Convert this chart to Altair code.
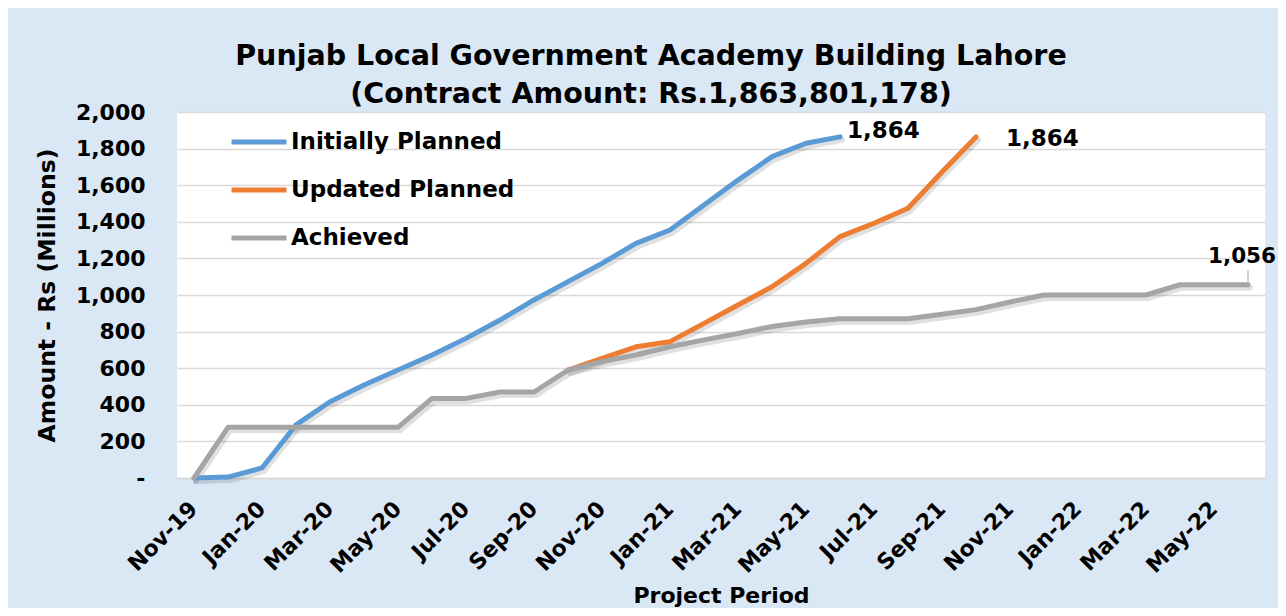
import altair as alt
import pandas as pd

months = ["Nov-19", "Dec-19", "Jan-20", "Feb-20", "Mar-20", "Apr-20", "May-20", "Jun-20",
          "Jul-20", "Aug-20", "Sep-20", "Oct-20", "Nov-20", "Dec-20", "Jan-21", "Feb-21",
          "Mar-21", "Apr-21", "May-21", "Jun-21", "Jul-21", "Aug-21", "Sep-21", "Oct-21",
          "Nov-21", "Dec-21", "Jan-22", "Feb-22", "Mar-22", "Apr-22", "May-22", "Jun-22"]
tick_labels = months[::2]
y_ticks = [0, 200, 400, 600, 800, 1000, 1200, 1400, 1600, 1800, 2000]

initially_planned = [0, 5, 55, 290, 417, 508, 590, 672, 763, 863, 973, 1073, 1173, 1282,
                     1355, 1492, 1628, 1756, 1829, 1864]          # Nov-19 .. Jun-21
updated_planned = [590, 654, 717, 745, 845, 945, 1045, 1173, 1319, 1392, 1474, 1672, 1864]  # Oct-20 .. Oct-21
achieved = [0, 277, 277, 277, 277, 277, 277, 435, 435, 470, 470, 590, 636, 672, 717, 755,
            790, 828, 852, 870, 870, 870, 895, 920, 962, 1000, 1000, 1000, 1000, 1056, 1056, 1056]

series_names = ["Initially Planned", "Updated Planned", "Achieved"]
series_colors = ["#5b9bd5", "#ed7d31", "#a5a5a5"]
title_lines = ["Punjab Local Government Academy Building Lahore",
               "(Contract Amount: Rs.1,863,801,178)"]

rows = []
for i, v in enumerate(initially_planned):
    rows.append({"month": months[i], "series": series_names[0], "value": v})
start_upd = months.index("Oct-20")
for i, v in enumerate(updated_planned):
    rows.append({"month": months[start_upd + i], "series": series_names[1], "value": v})
for i, v in enumerate(achieved):
    rows.append({"month": months[i], "series": series_names[2], "value": v})
df = pd.DataFrame(rows)

ends = pd.DataFrame([
    {"month": months[len(initially_planned) - 1], "series": series_names[0], "value": initially_planned[-1]},
    {"month": months[start_upd + len(updated_planned) - 1], "series": series_names[1], "value": updated_planned[-1]},
    {"month": months[len(achieved) - 1], "series": series_names[2], "value": achieved[-1]},
])
ends["label"] = ends["value"].map(lambda v: f"{v:,}")

FONT = "DejaVu Sans"

x_enc = alt.X("month:O", sort=months,
              scale=alt.Scale(domain=months),
              axis=alt.Axis(values=tick_labels, labelAngle=-45, labelAlign="right",
                            labelBaseline="middle", labelFont=FONT, labelFontWeight="bold",
                            labelFontSize=22, labelColor="black", labelPadding=27,
                            labelOverlap=False,
                            ticks=False, tickSize=0, domainColor="#d9d9d9", domainWidth=1.5,
                            grid=False, title="Project Period", titleFont=FONT,
                            titleFontWeight="bold", titleFontSize=22, titleColor="black",
                            titleY=117, titleBaseline="middle"))
y_axis = alt.Axis(values=y_ticks, tickCount=len(y_ticks),
                  labelExpr="datum.value == 0 ? '-' : format(datum.value, ',')",
                  labelOverlap=False,
                  labelFont=FONT, labelFontWeight="bold", labelFontSize=22,
                  labelColor="black", labelPadding=32, ticks=False, tickSize=0,
                  domain=False, gridColor="#d9d9d9", gridWidth=1.5,
                  title="Amount - Rs (Millions)", titleFont=FONT,
                  titleFontWeight="bold", titleFontSize=23.5, titleColor="black",
                  titleX=-130, titleBaseline="middle", titleAngle=-90)
y_scale = alt.Scale(domain=[0, 2000], nice=False)
y_enc = alt.Y("value:Q", scale=y_scale, axis=y_axis)

shadow = alt.Chart(df).mark_line(strokeWidth=6, color="black", opacity=0.12,
                                 xOffset=2, yOffset=3, strokeCap="round",
                                 strokeJoin="round").encode(
    x=x_enc, y=y_enc, detail="series:N")

lines = alt.Chart(df).mark_line(strokeWidth=5, strokeCap="round", strokeJoin="round").encode(
    x=x_enc, y=y_enc,
    color=alt.Color("series:N", sort=series_names,
                    scale=alt.Scale(domain=series_names, range=series_colors),
                    legend=alt.Legend(title=None, orient="none", legendX=52, legendY=0,
                                      symbolType="stroke", symbolSize=3025,
                                      symbolStrokeWidth=5, labelFont=FONT,
                                      labelFontWeight="bold", labelFontSize=23,
                                      labelColor="black", labelOffset=2, rowPadding=6,
                                      labelLimit=400)))

lab1 = alt.Chart(ends[ends.series == series_names[0]]).mark_text(
    align="left", dx=7, dy=-6, font=FONT, fontWeight="bold", fontSize=23, color="black").encode(
    x=x_enc, y=y_enc, text="label:N")
lab2 = alt.Chart(ends[ends.series == series_names[1]]).mark_text(
    align="left", dx=30, dy=2, font=FONT, fontWeight="bold", fontSize=23, color="black").encode(
    x=x_enc, y=y_enc, text="label:N")
lab3 = alt.Chart(ends[ends.series == series_names[2]]).mark_text(
    align="center", dx=-6, dy=-28, font=FONT, fontWeight="bold", fontSize=21.5, color="black").encode(
    x=x_enc, y=y_enc, text="label:N")

leader_df = pd.DataFrame({"month": [months[-1]], "value": [achieved[-1] + 15],
                          "value2": [achieved[-1] + 80]})
leader = alt.Chart(leader_df).mark_rule(color="#a5a5a5", strokeWidth=1).encode(
    x=x_enc, y=y_enc, y2="value2:Q")

chart = alt.layer(shadow, lines, leader, lab1, lab2, lab3).properties(
    width=1088, height=366,
    title=alt.TitleParams(text=title_lines, font=FONT, fontWeight="bold", fontSize=28.5,
                          color="black", dx=-70, dy=13, lineHeight=38, offset=6, anchor="middle"),
    autosize=alt.AutoSizeParams(type="none"),
    padding={"left": 169, "top": 104, "right": 13, "bottom": 130},
).configure(background="#dae7f5").configure_view(fill="white", stroke=None)

chart.save("out.html", embed_options={"renderer": "svg", "actions": False})
